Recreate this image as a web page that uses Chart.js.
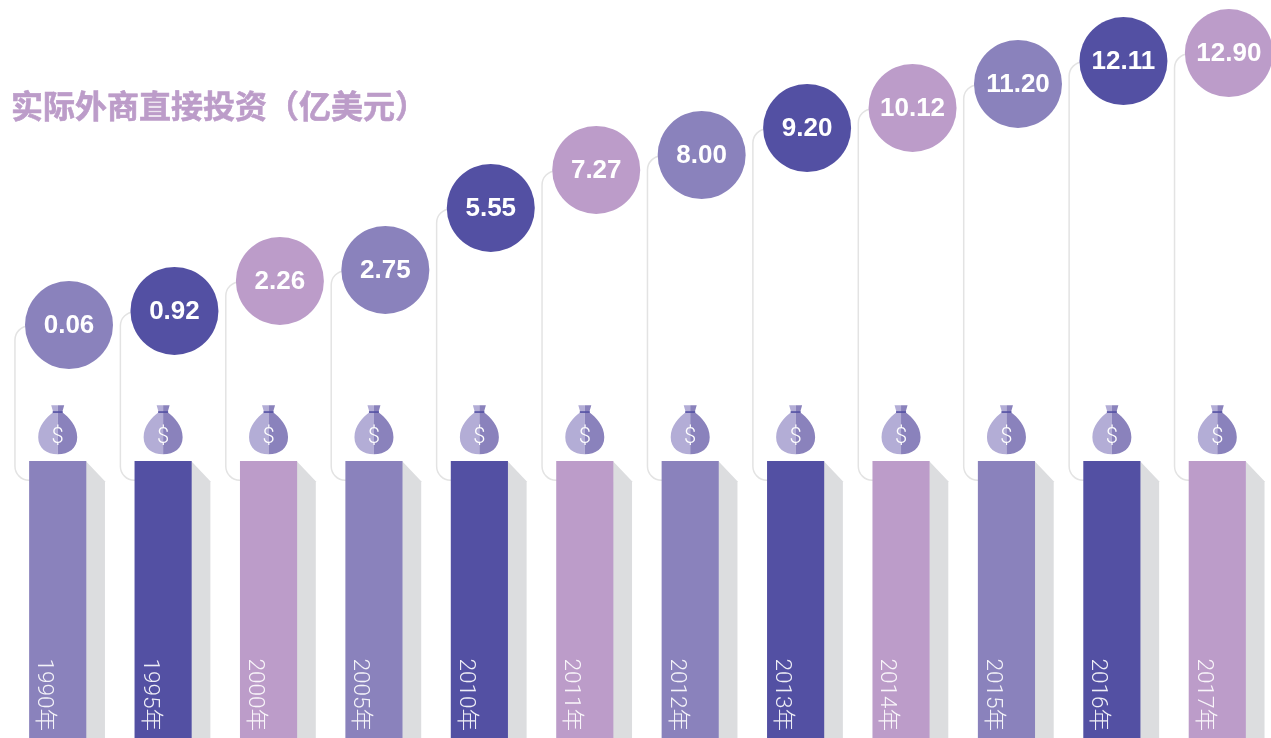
<!DOCTYPE html>
<html>
<head>
<meta charset="utf-8">
<title>实际外商直接投资</title>
<script src="https://cdn.jsdelivr.net/npm/chart.js@4"></script>
<style>
  html, body { margin: 0; padding: 0; background: #fff; overflow: hidden; }
  canvas { display: block; }
</style>
</head>
<body>
<canvas id="myChart" width="1271" height="738"></canvas>
<script>
const titleText = '实际外商直接投资（亿美元）';
const years = ['1990年', '1995年', '2000年', '2005年', '2010年', '2011年', '2012年', '2013年', '2014年', '2015年', '2016年', '2017年'];
const values = ['0.06', '0.92', '2.26', '2.75', '5.55', '7.27', '8.00', '9.20', '10.12', '11.20', '12.11', '12.90'];
// the bubbles do not sit exactly at their value in the original, so heights are read separately
const bubbleLevels = [0.06, 0.71, 2.10, 2.61, 5.48, 7.24, 7.93, 9.18, 10.11, 11.22, 12.28, 12.65];
const pedestals = [37.5, 37.5, 37.5, 37.5, 37.5, 37.5, 37.5, 37.5, 37.5, 37.5, 37.5, 37.5];
const palette = ['#8a82bc', '#5350a3', '#bc9cc9'];

const colors = years.map((y, i) => palette[i % 3]);
const bubblePoints = bubbleLevels.map((level, i) => ({ x: i, y: level }));

const drawBag = (ctx, cx, top) => {
  const half = (sign, fill) => {
    ctx.fillStyle = fill;
    ctx.beginPath();
    ctx.moveTo(cx, top - 56);
    ctx.lineTo(cx + sign * 6.5, top - 56);
    ctx.lineTo(cx + sign * 4.5, top - 49);
    ctx.bezierCurveTo(cx + sign * 11, top - 44, cx + sign * 19.5, top - 36, cx + sign * 19.5, top - 24);
    ctx.bezierCurveTo(cx + sign * 19.5, top - 13, cx + sign * 11, top - 7, cx, top - 7);
    ctx.closePath();
    ctx.fill();
  };
  half(-1, '#b3add6');
  half(1, '#8a82bc');
  ctx.fillStyle = '#5350a3';
  ctx.fillRect(cx - 5, top - 50, 10, 1.6);
  ctx.fillStyle = '#fff';
  ctx.font = '300 22px Roboto, "Liberation Sans"';
  ctx.textAlign = 'center';
  ctx.textBaseline = 'middle';
  ctx.fillText('$', cx, top - 24);
};

const decorations = {
  id: 'decorations',
  beforeDatasetsDraw(chart) {
    const { ctx } = chart;
    const bars = chart.getDatasetMeta(1).data;
    const bubbles = chart.getDatasetMeta(0).data;
    const bottom = chart.chartArea.bottom;
    ctx.save();
    bars.forEach((bar, i) => {
      const right = bar.x + bar.width / 2;
      const left = bar.x - bar.width / 2;
      // grey side of the bar
      ctx.fillStyle = '#dcdddf';
      ctx.beginPath();
      ctx.moveTo(right, bar.y);
      ctx.lineTo(right + 19, bar.y + 20);
      ctx.lineTo(right + 19, bottom);
      ctx.lineTo(right, bottom);
      ctx.closePath();
      ctx.fill();
      // bracket from the bubble down to the bar
      const lineX = left - 14.5;
      const lineBottom = bar.y + 19;
      const lineTop = bubbles[i].y + 1;
      ctx.strokeStyle = '#e3e3e3';
      ctx.lineWidth = 1.5;
      ctx.beginPath();
      ctx.moveTo(bubbles[i].x, lineTop);
      ctx.arcTo(lineX, lineTop, lineX, lineTop + 14, 14);
      ctx.arcTo(lineX, lineBottom, lineX + 14, lineBottom, 14);
      ctx.lineTo(left + 5, lineBottom);
      ctx.stroke();
      drawBag(ctx, bar.x, bar.y);
    });
    ctx.restore();
  },
  afterDatasetsDraw(chart) {
    const { ctx } = chart;
    ctx.save();
    ctx.fillStyle = '#fff';
    ctx.font = 'bold 26px "Liberation Sans", Arial';
    ctx.textAlign = 'center';
    ctx.textBaseline = 'middle';
    chart.getDatasetMeta(0).data.forEach((pt, i) => {
      ctx.fillText(values[i], pt.x, pt.y + 1);
    });
    // year labels run down the bars
    ctx.fillStyle = 'rgba(255,255,255,0.9)';
    ctx.font = '300 22.5px Roboto, "Noto Sans CJK SC"';
    ctx.textAlign = 'right';
    chart.getDatasetMeta(1).data.forEach((bar, i) => {
      ctx.save();
      ctx.translate(bar.x - 14, chart.chartArea.bottom - 7);
      ctx.rotate(Math.PI / 2);
      ctx.fillText(years[i], 0, 0);
      ctx.restore();
    });
    ctx.fillStyle = '#bc9cc9';
    ctx.strokeStyle = '#bc9cc9';
    ctx.lineWidth = 0.6;
    ctx.font = 'bold 32px "Noto Sans CJK SC"';
    ctx.textAlign = 'left';
    ctx.fillText(titleText, 11, 106);
    ctx.strokeText(titleText, 11, 106);
    ctx.restore();
  },
};

new Chart(document.getElementById('myChart'), {
  data: {
    labels: years,
    datasets: [
      {
        type: 'line',
        data: bubblePoints,
        xAxisID: 'xBubble',
        yAxisID: 'y',
        showLine: false,
        pointRadius: 44,
        pointHoverRadius: 44,
        pointBorderWidth: 0,
        pointBackgroundColor: colors,
        clip: false,
      },
      {
        type: 'bar',
        data: pedestals,
        xAxisID: 'x',
        yAxisID: 'yBar',
        backgroundColor: colors,
        grouped: false,
        barThickness: 56.5,
      },
    ],
  },
  options: {
    responsive: false,
    animation: false,
    events: [],
    layout: { autoPadding: false, padding: { left: 5, right: 1, top: 0, bottom: 0 } },
    plugins: { legend: { display: false }, tooltip: { enabled: false } },
    scales: {
      x: { type: 'category', display: false, offset: true },
      xBubble: { type: 'linear', display: false, min: -0.607, max: 11.39 },
      y: { type: 'linear', display: false, min: -19.06, max: 15.106 },
      yBar: { type: 'linear', display: false, min: 0, max: 100 },
    },
  },
  plugins: [decorations],
});
</script>
</body>
</html>
